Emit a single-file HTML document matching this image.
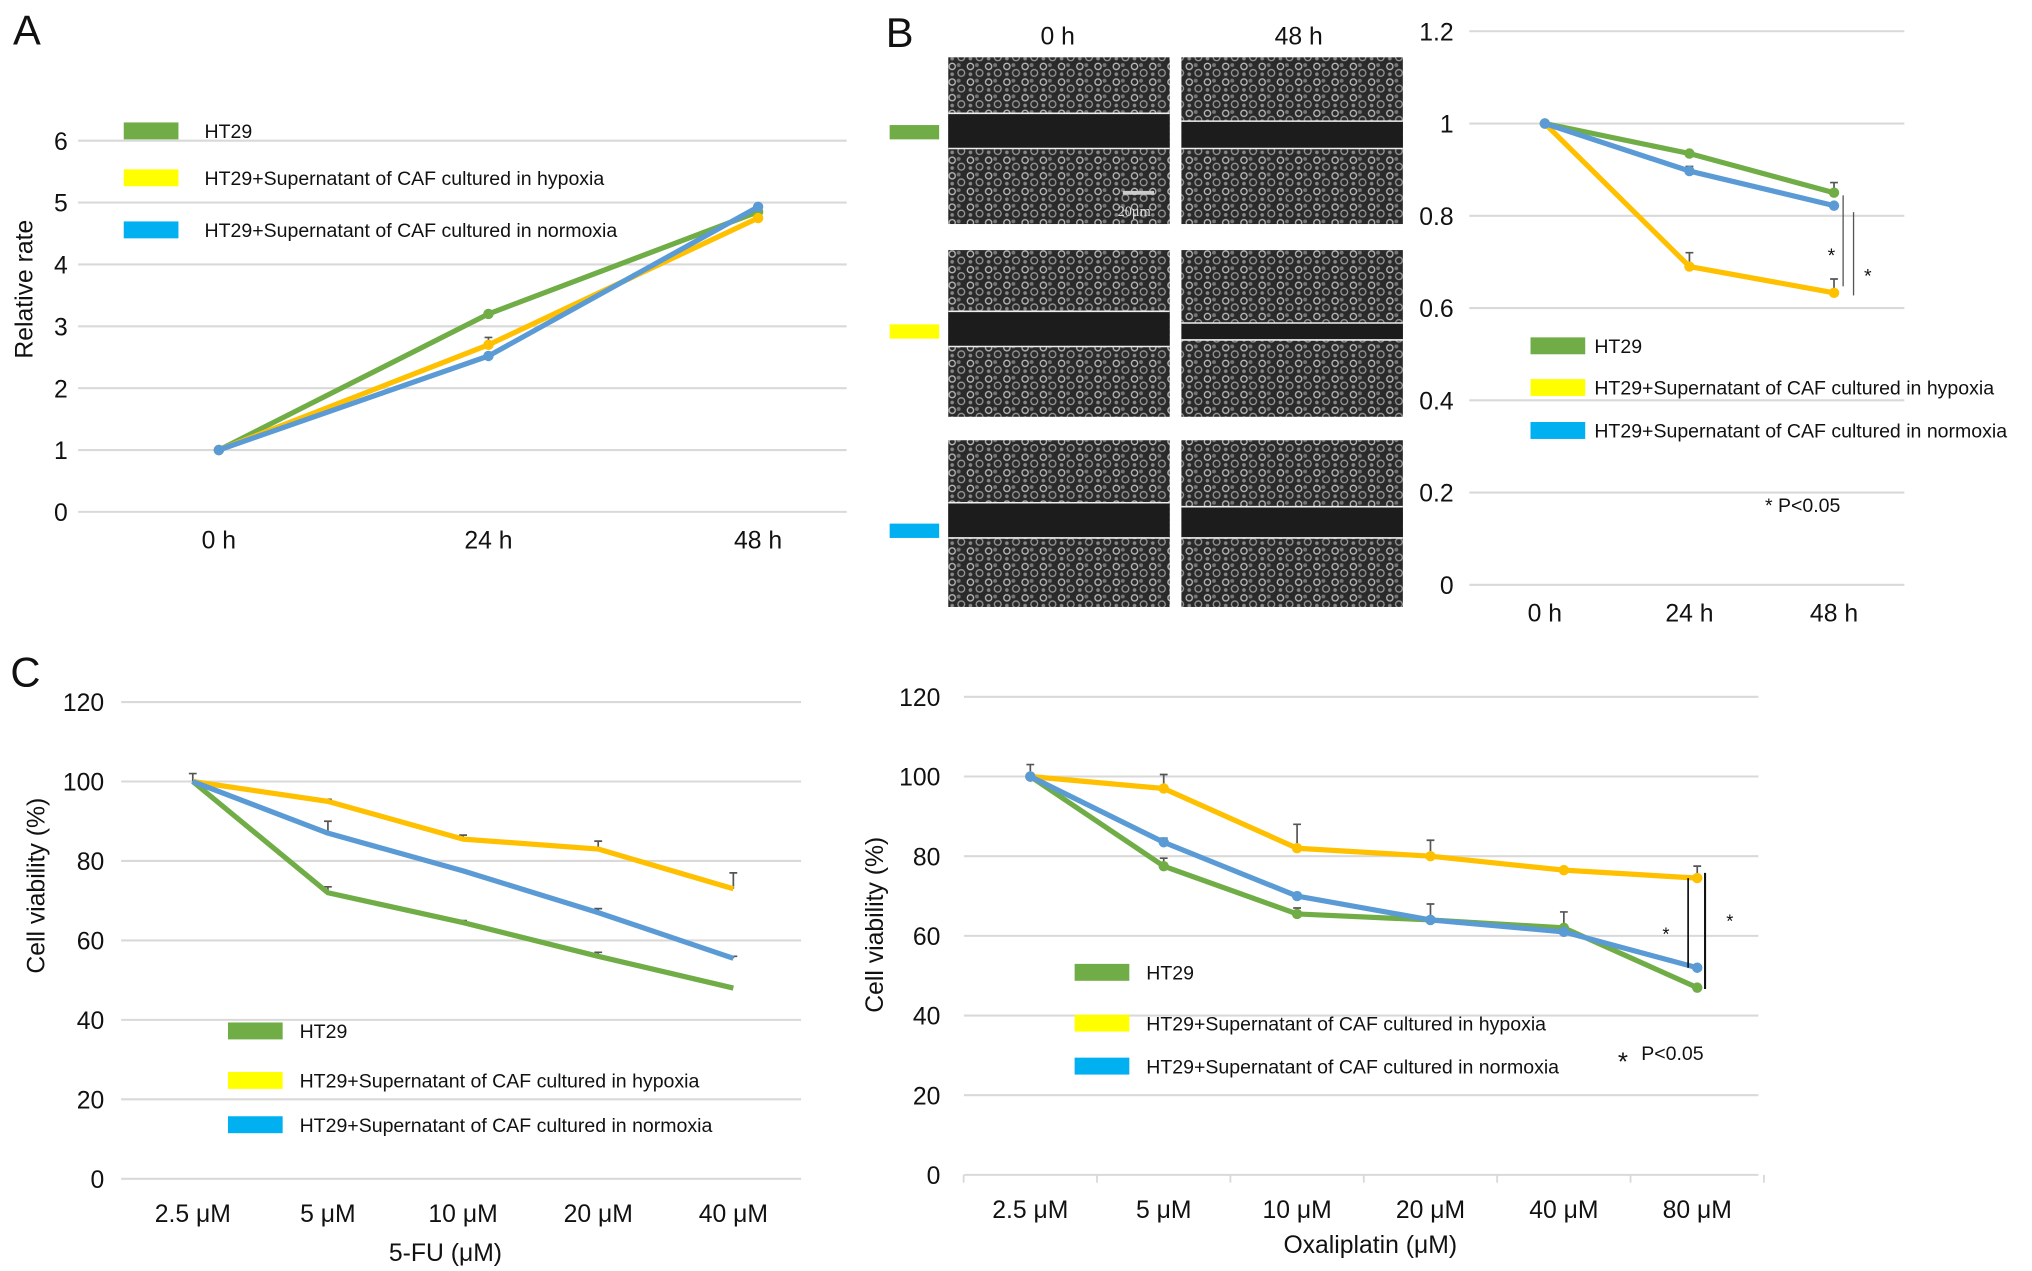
<!DOCTYPE html>
<html><head><meta charset="utf-8"><style>
html,body{margin:0;padding:0;background:#fff;}
svg{display:block;font-family:"Liberation Sans",Arial,sans-serif;}
</style></head><body>
<svg id="fig" width="2032" height="1271" viewBox="0 0 1560 975.8" preserveAspectRatio="none" xmlns="http://www.w3.org/2000/svg">
<defs>
<pattern id="cells" width="14" height="12" patternUnits="userSpaceOnUse">
<rect width="14" height="12" fill="#2a2a2a"/>
<circle cx="3" cy="3" r="2.4" fill="none" stroke="#bbb" stroke-width="1"/>
<circle cx="10" cy="8" r="2.6" fill="none" stroke="#999" stroke-width="1"/>
<circle cx="8" cy="2" r="1.5" fill="#777"/>
<circle cx="3" cy="9" r="1.4" fill="#888"/>
</pattern>
</defs>
<g id="root"></g>
</svg>
<script>
// ---------- data ----------
const catsA = ["0 h","24 h","48 h"];
const ticksA = [0,1,2,3,4,5,6];
const htA = [1,3.2,4.85];
const hypA = [1,2.7,4.75];
const norA = [1,2.52,4.93];

const catsB = ["0 h","24 h","48 h"];
const ticksB = [0,0.2,0.4,0.6,0.8,1,1.2];
const tickLabelsB = ["0","0.2","0.4","0.6","0.8","1","1.2"];
const htB = [1,0.935,0.85];
const hypB = [1,0.69,0.633];
const norB = [1,0.897,0.822];
const errHtB = [0,0,0.022];
const errHypB = [0,0.03,0.03];
const errNorB = [0,0.01,0];

const catsC1 = ["2.5 μM","5 μM","10 μM","20 μM","40 μM"];
const ticksC = [0,20,40,60,80,100,120];
const htC1 = [100,72,64.5,56,48];
const hypC1 = [100,95,85.5,83,73];
const norC1 = [100,87,77.5,67,55.5];
const errHtC1 = [2,1.5,0.5,1,0];
const errHypC1 = [0,0.5,1,2,4];
const errNorC1 = [0,3,0,1,0.5];

const catsC2 = ["2.5 μM","5 μM","10 μM","20 μM","40 μM","80 μM"];
const htC2 = [100,77.5,65.5,64,62,47];
const hypC2 = [100,97,82,80,76.5,74.5];
const norC2 = [100,83.5,70,64,61,52];
const errHtC2 = [3,2,1.5,0,4,0];
const errHypC2 = [0,3.5,6,4,0,3];
const errNorC2 = [0,1,0,4,0,0];

const GREEN="#70ad47", YEL="#ffc000", BLUE="#5b9bd5";
const SW_G="#70ad47", SW_Y="#ffff00", SW_B="#00b0f0";
const NS="http://www.w3.org/2000/svg";
const root=document.getElementById('root');
function mk(tag,attrs,parent,text){const e=document.createElementNS(NS,tag);for(const k in attrs)e.setAttribute(k,attrs[k]);if(text!==undefined)e.textContent=text;(parent||root).appendChild(e);return e;}

function chart(o){
  const g=mk('g',{});
  
  
  const ymax=o.ticks[o.ticks.length-1];
  const y=v=>o.y0-(v/ymax)*(o.y0-o.yTop);
  const n=o.cats.length;
  const x=i=>o.cx0+i*(o.cx1-o.cx0)/(n-1);
  o.ticks.forEach((t,i)=>{
    const gl=mk('line',{x1:o.gx0,x2:o.gx1,y1:y(t),y2:y(t),stroke:"#d9d9d9","stroke-width":1.6},g);
    
    
    const tl=mk('text',{x:o.tx,y:y(t)+7,"text-anchor":"end","font-size":19,fill:"#111"},g,o.tickLabels?o.tickLabels[i]:String(t));
    
    
  });
  if(o.xticks){const w=(o.cx1-o.cx0)/(n-1);for(let i=0;i<=n;i++){const xx=o.cx0-w/2+i*w;mk('line',{x1:xx,x2:xx,y1:y(0),y2:y(0)+6,stroke:"#d9d9d9","stroke-width":1.4},g);}}
  o.cats.forEach((c,i)=>{
    const t=mk('text',{x:x(i),y:o.xly,"text-anchor":"middle","font-size":19,fill:"#111"},g,c);
    
    
  });
  o.series.forEach(s=>{
    if(s.err) s.vals.forEach((v,i)=>{ if(s.err[i]>0){
      const eb=mk('path',{d:`M${x(i)},${y(v)} V${y(v+s.err[i])} M${x(i)-3},${y(v+s.err[i])} H${x(i)+3}`,stroke:"#555","stroke-width":1.3,fill:"none"},g);
      
      
    }});
    const pl=mk('polyline',{points:s.vals.map((v,i)=>x(i)+","+y(v)).join(" "),fill:"none",stroke:s.color,"stroke-width":o.lw||4,"stroke-linejoin":"round"},g);
    
    
    if(o.markers) s.vals.forEach((v,i)=>{
      const c=mk('circle',{cx:x(i),cy:y(v),r:4,fill:s.color},g);
      
      
    });
  });
  return {x,y};
}
function legend(x0,ys,tx,fs){
  const labels=["HT29","HT29+Supernatant of CAF cultured in hypoxia","HT29+Supernatant of CAF cultured in normoxia"];
  const cols=[SW_G,SW_Y,SW_B];
  labels.forEach((l,i)=>{
    const r=mk('rect',{x:x0,y:ys[i]-6,width:42,height:13,fill:cols[i]});
    
    
    const t=mk('text',{x:tx,y:ys[i]+6,"font-size":fs||16,fill:"#111"},root,l);
    
    
  });
}
function txt(x,y,s,fs,attrs,name){const a=Object.assign({x:x,y:y,"font-size":fs,fill:"#111"},attrs||{});const t=mk('text',a,root,s);return t;}

// ---------- Panel A ----------
txt(10,34,"A",32,{},"panel-label-a");
chart({name:"chart-a",cats:catsA,ticks:ticksA,y0:393,yTop:108,gx0:60,gx1:650,cx0:168,cx1:582,tx:52,xly:421,markers:true,
  series:[{name:"ht29",vals:htA,color:GREEN},{name:"hypoxia",vals:hypA,color:YEL,err:[0,0.12,0]},{name:"normoxia",vals:norA,color:BLUE}]});
txt(0,0,"Relative rate",19,{transform:"translate(25,222) rotate(-90)","text-anchor":"middle"},"y-axis-title-a");
legend(95,[100,136,176],157,15);

// ---------- Panel B images ----------
txt(680,36,"B",32,{},"panel-label-b");
txt(812,34,"0 h",19,{"text-anchor":"middle"},"column-header-0h");
txt(997,34,"48 h",19,{"text-anchor":"middle"},"column-header-48h");
const rowsY=[[44,172],[192,320],[338,466]];
const gaps=[[[87,114],[93,114]],[[239,266],[248,261]],[[386,413],[389,413]]];
const colsX=[[728,898],[907,1077]];
const rowCols=[SW_G,SW_Y,SW_B];
rowsY.forEach((r,ri)=>{
  const sw=mk('rect',{x:683,y:(r[0]+r[1])/2-49+ri*0-5+ (ri==0?0:0),width:38,height:11,fill:rowCols[ri]});
  sw.setAttribute('y',[96,249,402][ri]);
  
  
  colsX.forEach((c,ci)=>{
    const im=mk('rect',{x:c[0],y:r[0],width:c[1]-c[0],height:r[1]-r[0],fill:"url(#cells)"});
    
    
    const gp=gaps[ri][ci];
    mk('rect',{x:c[0],y:gp[0],width:c[1]-c[0],height:gp[1]-gp[0],fill:"#1c1c1c"});
    mk('line',{x1:c[0],x2:c[1],y1:gp[0],y2:gp[0],stroke:"#eee","stroke-width":1.2});
    mk('line',{x1:c[0],x2:c[1],y1:gp[1],y2:gp[1],stroke:"#eee","stroke-width":1.2});
  });
});
mk('line',{x1:862,x2:886,y1:148,y2:148,stroke:"#ccc","stroke-width":3});
txt(858,166,"20μm",11,{fill:"#ddd","font-family":"Liberation Serif"},"scale-bar-label");

// ---------- Panel B chart ----------
const cb=chart({name:"chart-b",cats:catsB,ticks:ticksB,tickLabels:tickLabelsB,y0:449,yTop:24,gx0:1128,gx1:1462,cx0:1186,cx1:1408,tx:1116,xly:477,markers:true,
  series:[{name:"ht29",vals:htB,color:GREEN,err:errHtB},{name:"hypoxia",vals:hypB,color:YEL,err:errHypB},{name:"normoxia",vals:norB,color:BLUE,err:errNorB}]});
mk('line',{x1:1415,x2:1415,y1:cb.y(htB[2])+2,y2:cb.y(hypB[2])-5,stroke:"#555","stroke-width":1});
mk('line',{x1:1423,x2:1423,y1:cb.y(norB[2])+5,y2:cb.y(hypB[2])+2,stroke:"#555","stroke-width":1});
txt(1406,201,"*",15,{"text-anchor":"middle"},"significance-star");
txt(1434,217,"*",15,{"text-anchor":"middle"},"significance-star");
legend(1175,[265,297,330],1224,15);
txt(1355,393,"* P<0.05",15,{},"p-value-note-b");

// ---------- Panel C left ----------
txt(8,527,"C",32,{},"panel-label-c");
chart({name:"chart-c-5fu",cats:catsC1,ticks:ticksC,y0:905,yTop:539,gx0:93,gx1:615,cx0:148,cx1:563,tx:80,xly:938,markers:false,lw:4,
  series:[{name:"ht29",vals:htC1,color:GREEN,err:errHtC1},{name:"hypoxia",vals:hypC1,color:YEL,err:errHypC1},{name:"normoxia",vals:norC1,color:BLUE,err:errNorC1}]});
txt(0,0,"Cell viability (%)",19,{transform:"translate(34,680) rotate(-90)","text-anchor":"middle"},"y-axis-title-c1");
txt(342,968,"5-FU (μM)",19,{"text-anchor":"middle"},"x-axis-title-c1");
legend(175,[791,829,863],230,15);

// ---------- Panel C right ----------
const cc=chart({name:"chart-c-oxaliplatin",cats:catsC2,ticks:ticksC,y0:902,yTop:535,gx0:740,gx1:1350,cx0:791,cx1:1303,tx:722,xly:935,markers:true,xticks:true,
  series:[{name:"ht29",vals:htC2,color:GREEN,err:errHtC2},{name:"hypoxia",vals:hypC2,color:YEL,err:errHypC2},{name:"normoxia",vals:norC2,color:BLUE,err:errNorC2}]});
txt(0,0,"Cell viability (%)",19,{transform:"translate(678,710) rotate(-90)","text-anchor":"middle"},"y-axis-title-c2");
txt(1052,962,"Oxaliplatin (μM)",19,{"text-anchor":"middle"},"x-axis-title-c2");
mk('line',{x1:1296,x2:1296,y1:cc.y(hypC2[5]),y2:cc.y(norC2[5]),stroke:"#111","stroke-width":1.3});
mk('line',{x1:1309,x2:1309,y1:cc.y(hypC2[5])-4,y2:cc.y(htC2[5])+1,stroke:"#111","stroke-width":1.6});
txt(1279,722,"*",14,{"text-anchor":"middle"},"significance-star");
txt(1328,712,"*",14,{"text-anchor":"middle"},"significance-star");
legend(825,[746,785,818],880,15);
txt(1246,822,"*",20,{"text-anchor":"middle"},"p-star");
txt(1260,814,"P<0.05",15,{},"p-value-note-c");
</script>
</body></html>
